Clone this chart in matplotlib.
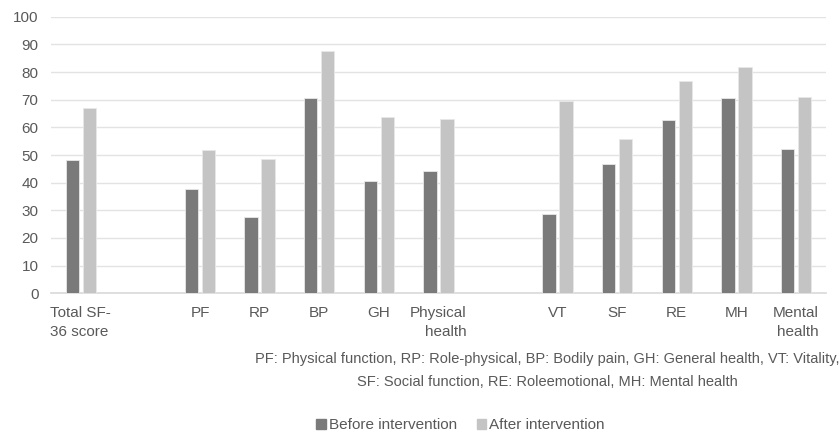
import numpy as np
import matplotlib.pyplot as plt
from matplotlib.patches import Patch

plt.rcParams['font.family'] = ['Liberation Sans', 'DejaVu Sans']

categories = ['Total SF-\n36 score', '', 'PF', 'RP', 'BP', 'GH', 'Physical\nhealth',
              '', 'VT', 'SF', 'RE', 'MH', 'Mental\nhealth']
before = [48.2, 0, 37.7, 27.7, 70.6, 40.7, 44.2, 0, 28.7, 46.6, 62.7, 70.6, 52.2]
after = [66.9, 0, 51.7, 48.7, 87.6, 63.6, 62.9, 0, 69.6, 55.7, 76.6, 81.7, 71.0]
series_names = ['Before intervention', 'After intervention']
caption = ('PF: Physical function, RP: Role-physical, BP: Bodily pain, GH: General health, VT: Vitality,\n'
           'SF: Social function, RE: Roleemotional, MH: Mental health')

c_before = '#7a7a7a'
c_after = '#c4c4c4'
txt = '#595959'

fig = plt.figure(figsize=(8.4, 4.33), dpi=100)
ax = fig.add_axes([0.0607, 0.3226, 0.9223, 0.6388])

x = np.arange(len(categories))
w = 0.225
off = 0.143
ax.bar(x - off, before, width=w, color=c_before, edgecolor='#e8e8e8', linewidth=0.6, zorder=3)
ax.bar(x + off, after, width=w, color=c_after, edgecolor='#e8e8e8', linewidth=0.6, zorder=3)

ax.set_xlim(-0.5, len(categories) - 0.5)
ax.set_ylim(0, 100)
ax.set_yticks(np.arange(0, 101, 10))
ax.grid(axis='y', color='#e3e3e3', linewidth=1, zorder=0)
for s in ['top', 'right', 'left']:
    ax.spines[s].set_visible(False)
ax.spines['bottom'].set_color('#d9d9d9')
ax.spines['bottom'].set_linewidth(1.2)
ax.tick_params(axis='both', length=0, colors=txt, labelsize=11)
ax.tick_params(axis='y', pad=9)
ax.tick_params(axis='x', pad=9)

ax.set_xticks(x)
ax.set_xticklabels(categories, linespacing=1.5)
for lab, ma in zip(ax.get_xticklabels(), ['left'] + ['center'] * 5 + ['right'] + ['center'] * 5 + ['right']):
    lab.set_multialignment(ma)

fig.text(0.652, 0.145, caption, ha='center', va='center', fontsize=10.5,
         color=txt, linespacing=1.85)

handles = [Patch(color=c_before), Patch(color=c_after)]
fig.legend(handles, series_names, loc='center', bbox_to_anchor=(0.548, 0.018),
           ncol=2, frameon=False, fontsize=11, handlelength=0.6, handleheight=0.6,
           handletextpad=0.2, columnspacing=1.3, labelcolor=txt)

fig.savefig('out.png', dpi=100)
